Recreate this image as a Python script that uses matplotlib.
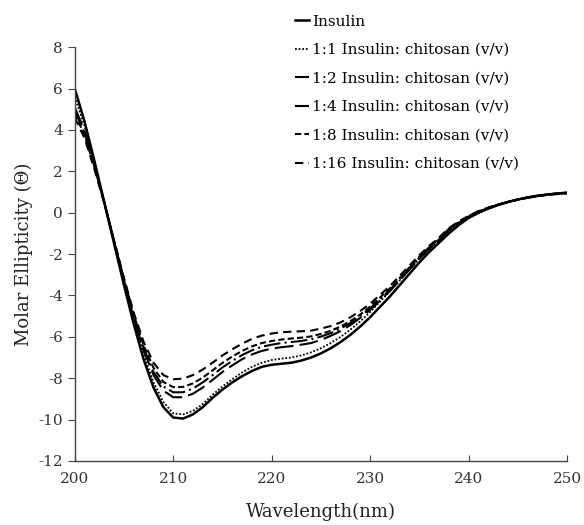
import matplotlib
matplotlib.use('Agg')
import matplotlib.pyplot as plt
import numpy as np

# Longitud de onda (nm)
wavelength = list(range(200, 251))

# Valores (elipticidad molar)
insulin = [6.0, 4.4, 2.5, 0.5, -1.5, -3.5, -5.4, -7.1, -8.45, -9.4,
           -9.9, -9.95, -9.75, -9.4, -8.95, -8.55, -8.2, -7.9, -7.65, -7.45,
           -7.35, -7.3, -7.25, -7.15, -7.0, -6.8, -6.55, -6.25, -5.9, -5.5,
           -5.05, -4.55, -4.05, -3.5, -2.95, -2.4, -1.9, -1.45, -1.0, -0.6,
           -0.25, 0.0, 0.2, 0.37, 0.52, 0.64, 0.74, 0.82, 0.88, 0.93, 0.97]
ratio_1_1 = [5.6, 4.2, 2.4, 0.5, -1.4, -3.3, -5.2, -6.85, -8.2, -9.15,
             -9.7, -9.75, -9.58, -9.25, -8.8, -8.4, -8.05, -7.72, -7.45, -7.25,
             -7.12, -7.05, -7.0, -6.9, -6.75, -6.55, -6.3, -6.0, -5.65, -5.25,
             -4.8, -4.3, -3.8, -3.28, -2.75, -2.23, -1.75, -1.32, -0.93, -0.58,
             -0.27, -0.02, 0.2, 0.37, 0.52, 0.64, 0.74, 0.82, 0.88, 0.92, 0.95]
ratio_1_2 = [5.1, 3.95, 2.3, 0.5, -1.4, -3.3, -5.1, -6.65, -7.85, -8.6,
             -8.92, -8.92, -8.75, -8.45, -8.08, -7.7, -7.38, -7.08, -6.85, -6.68,
             -6.57, -6.5, -6.45, -6.38, -6.3, -6.15, -5.95, -5.72, -5.43, -5.08,
             -4.7, -4.25, -3.79, -3.27, -2.74, -2.22, -1.74, -1.32, -0.85, -0.5,
             -0.2, 0.04, 0.23, 0.39, 0.52, 0.64, 0.74, 0.82, 0.88, 0.93, 0.97]
ratio_1_4 = [4.95, 3.85, 2.25, 0.5, -1.4, -3.28, -5.05, -6.55, -7.7, -8.4,
             -8.68, -8.68, -8.5, -8.2, -7.85, -7.48, -7.16, -6.88, -6.65, -6.48,
             -6.38, -6.3, -6.25, -6.2, -6.12, -5.99, -5.82, -5.6, -5.33, -5.0,
             -4.62, -4.17, -3.73, -3.21, -2.69, -2.17, -1.71, -1.29, -0.82, -0.48,
             -0.19, 0.05, 0.23, 0.39, 0.52, 0.64, 0.74, 0.82, 0.88, 0.93, 0.96]
ratio_1_8 = [4.8, 3.75, 2.2, 0.5, -1.38, -3.22, -4.95, -6.42, -7.5, -8.18,
             -8.43, -8.42, -8.25, -7.97, -7.62, -7.26, -6.95, -6.68, -6.46, -6.3,
             -6.2, -6.13, -6.08, -6.04, -5.98, -5.86, -5.71, -5.5, -5.24, -4.92,
             -4.54, -4.1, -3.66, -3.15, -2.64, -2.13, -1.67, -1.25, -0.78, -0.45,
             -0.17, 0.06, 0.24, 0.39, 0.52, 0.63, 0.73, 0.81, 0.87, 0.92, 0.95]
ratio_1_16 = [4.6, 3.6, 2.1, 0.45, -1.35, -3.15, -4.85, -6.25, -7.25, -7.85,
              -8.05, -8.02, -7.85, -7.58, -7.25, -6.9, -6.6, -6.33, -6.1, -5.94,
              -5.84, -5.78, -5.75, -5.73, -5.7, -5.6, -5.48, -5.3, -5.05, -4.75,
              -4.4, -3.97, -3.55, -3.05, -2.55, -2.05, -1.6, -1.2, -0.74, -0.42,
              -0.15, 0.08, 0.25, 0.4, 0.52, 0.63, 0.72, 0.8, 0.86, 0.9, 0.93]

etiquetas = ['Insulin',
             '1:1 Insulin: chitosan (v/v)',
             '1:2 Insulin: chitosan (v/v)',
             '1:4 Insulin: chitosan (v/v)',
             '1:8 Insulin: chitosan (v/v)',
             '1:16 Insulin: chitosan (v/v)']

plt.rcParams['font.family'] = ['DejaVu Serif']
plt.rcParams['axes.unicode_minus'] = False

fig = plt.figure(figsize=(5.84, 5.25), dpi=100)
ax = fig.add_axes([0.128, 0.122, 0.843, 0.788])

estilos = [
    ('-', 1.8),
    ((0, (1, 1)), 1.3),
    ((0, (9, 3)), 1.5),
    ((0, (8, 2, 1, 2)), 1.5),
    ((0, (3, 1.5)), 1.5),
    ((0, (4, 2.5)), 1.5),
]
series = [insulin, ratio_1_1, ratio_1_2, ratio_1_4, ratio_1_8, ratio_1_16]

for datos, etiqueta, (ls, lw) in zip(series, etiquetas, estilos):
    ax.plot(wavelength, datos, color='black', linestyle=ls, linewidth=lw, label=etiqueta)

ax.set_xlim(200, 250)
ax.set_ylim(-12, 8)
ax.set_xticks(np.arange(200, 251, 10))
ax.set_yticks(np.arange(-12, 9, 2))
ax.spines['top'].set_visible(False)
ax.spines['right'].set_visible(False)
for s in ['left', 'bottom']:
    ax.spines[s].set_color('#444444')
    ax.spines[s].set_linewidth(1.0)
ax.tick_params(axis='y', direction='out', length=5, color='#444444', labelsize=11, labelcolor='#333333')
ax.tick_params(axis='x', direction='in', length=4, color='#444444', labelsize=11, labelcolor='#333333', pad=8)

ax.set_xlabel('Wavelength(nm)', fontsize=13, color='#222222', labelpad=12)
ax.set_ylabel('Molar Ellipticity (\u0398)', fontsize=13, color='#222222', labelpad=4)

fig.legend(loc='upper left', bbox_to_anchor=(0.495, 0.984), frameon=False,
           fontsize=11, handlelength=0.9, handletextpad=0.2, labelspacing=0.95,
           borderaxespad=0)

fig.savefig('out.png', dpi=100)
